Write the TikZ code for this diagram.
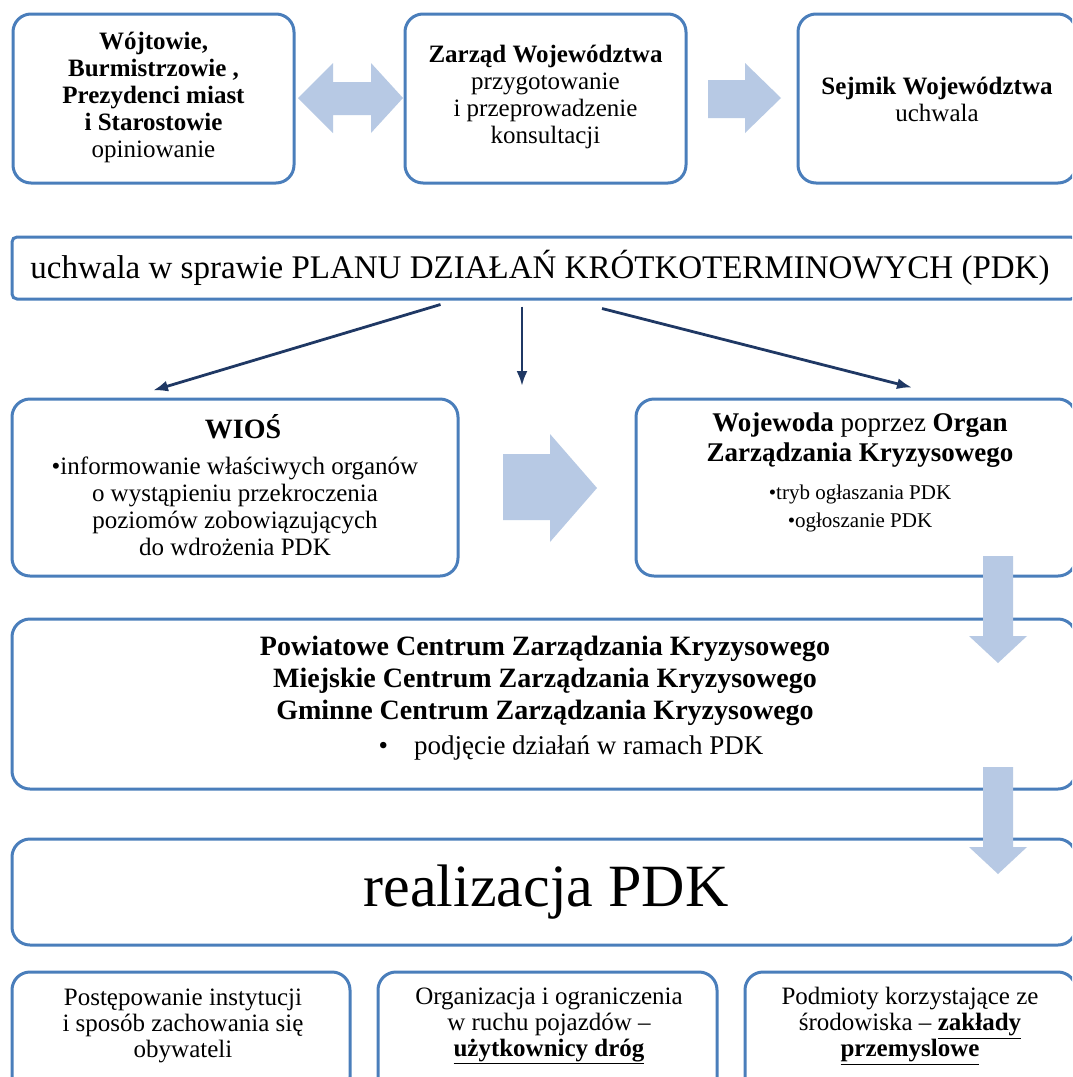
\documentclass[tikz,border=0pt]{standalone}
\usepackage{fontspec}
\setmainfont{Liberation Serif}
\usetikzlibrary{arrows.meta,calc}
\definecolor{boxblue}{RGB}{74,126,187}
\definecolor{lightarrow}{RGB}{183,201,228}
\definecolor{navy}{RGB}{31,56,100}
\tikzset{
  box/.style={draw=boxblue, line width=3pt, fill=white, rounded corners=18pt, inner sep=0pt},
  barbox/.style={draw=boxblue, line width=3pt, fill=white, rounded corners=5pt, inner sep=0pt},
  txt/.style={align=center, inner sep=0pt, text=black},
  navyarrow/.style={draw=navy, line width=2.8pt, -{Latex[length=15pt,width=11pt]}},
  blockarrow/.style={fill=lightarrow, draw=none}
}
\newcommand{\fs}[2]{\fontsize{#1}{#2}\selectfont}
\begin{document}
\begin{tikzpicture}[x=1pt,y=-1pt]
\useasboundingbox (0,0) rectangle (1072,1077);
\clip (0,0) rectangle (1072,1077);
\fill[white] (0,0) rectangle (1072,1077);

% top row
\node[box, minimum width=281pt, minimum height=169pt] (b1) at (153.5,98.5) {};
\node[box, minimum width=281pt, minimum height=169pt] (b2) at (545.5,98.5) {};
\node[box, minimum width=278pt, minimum height=169pt] (b3) at (937,98.5) {};
\node[txt, font=\fs{25}{27}] (t1) at (153.5,97) {\textbf{Wójtowie,}\\\textbf{Burmistrzowie ,}\\\textbf{Prezydenci miast}\\\textbf{i Starostowie}\\opiniowanie};
\node[txt, font=\fs{25}{27}] (t2) at (545.5,97) {\textbf{Zarząd Województwa}\\przygotowanie\\i przeprowadzenie\\konsultacji};
\node[txt, font=\fs{25}{27}] (t3) at (937,99) {\textbf{Sejmik Województwa}\\uchwala};

% block arrows top
\fill[blockarrow] (298,98) -- (333,63) -- (333,82) -- (371,82) -- (371,63) -- (403,98)
  -- (371,133) -- (371,115) -- (333,115) -- (333,133) -- cycle;
\fill[blockarrow] (708,80) -- (745,80) -- (745,63) -- (781,98) -- (745,133) -- (745,118) -- (708,118) -- cycle;

% PDK bar
\node[barbox, minimum width=1064pt, minimum height=62pt] (pdk) at (544,268) {};
\node[txt, font=\fs{33}{36}] (tpdk) at (540,268) {uchwala w sprawie PLANU DZIAŁAŃ KRÓTKOTERMINOWYCH (PDK)};

% middle boxes
\node[box, minimum width=446pt, minimum height=177pt] (wios) at (235,487.5) {};
\node[box, minimum width=440pt, minimum height=177pt] (woj) at (856,487.5) {};
\node[txt, font=\fs{28}{30}] (twiosh) at (243,427) {\textbf{WIOŚ}};
\node[txt, font=\fs{25}{27}] (twios) at (235,506) {•informowanie właściwych organów\\o wystąpieniu przekroczenia\\poziomów zobowiązujących\\do wdrożenia PDK};
\node[txt, font=\fs{27}{30}] (twojh) at (860,440) {\textbf{Wojewoda} poprzez \textbf{Organ}\\\textbf{Zarządzania Kryzysowego}};
\node[txt, font=\fs{21}{28}] (twojb) at (860,508) {•tryb ogłaszania PDK\\•ogłoszanie PDK};

% navy arrows
\coordinate (mid) at (522,386);
\draw[navyarrow] ([xshift=-103.5pt,yshift=-4pt]pdk.south) -- ([xshift=-82pt,yshift=7pt]wios.north);
\draw[navyarrow] ([xshift=-22pt,yshift=-6pt]pdk.south) -- (mid);
\draw[navyarrow] ([xshift=58pt,yshift=-8pt]pdk.south) -- ([xshift=56pt,yshift=10pt]woj.north);

% big block arrow
\fill[blockarrow] (503,454) -- (550,454) -- (550,434) -- (597,488) -- (550,542) -- (550,520) -- (503,520) -- cycle;

% PCZK
\node[box, minimum width=1064pt, minimum height=170pt] (pczk) at (544,704) {};
\node[txt, font=\fs{28}{32}] (tpczk) at (545,681) {\textbf{Powiatowe Centrum Zarządzania Kryzysowego}\\\textbf{Miejskie Centrum Zarządzania Kryzysowego}\\\textbf{Gminne Centrum Zarządzania Kryzysowego}};
\node[txt, font=\fs{27}{30}] (tpod) at (571,748) {•\hspace{26pt}podjęcie działań w ramach PDK};

% realizacja
\node[box, minimum width=1064pt, minimum height=106pt] (real) at (544,892) {};
\node[txt, font=\fs{60}{66}] (treal) at (546,892) {realizacja PDK};

% bottom boxes
\node[box, minimum width=338pt, minimum height=123pt] (ba) at (181,1033.5) {};
\node[box, minimum width=339pt, minimum height=123pt] (bb) at (547.5,1033.5) {};
\node[box, minimum width=331pt, minimum height=123pt] (bc) at (910.5,1033.5) {};
\node[txt, font=\fs{25}{26}] (ta) at (183,1026) {Postępowanie instytucji\\i sposób zachowania się\\obywateli};
\node[txt, font=\fs{25}{26}] (tb) at (549,1026) {Organizacja i ograniczenia\\w ruchu pojazdów –\\\textbf{\underline{użytkownicy dróg}}};
\node[txt, font=\fs{25}{26}] (tc) at (910,1026) {Podmioty korzystające ze\\środowiska – \textbf{\underline{zakłady}}\\\textbf{\underline{przemyslowe}}};

% down block arrows (in front of boxes)
\fill[blockarrow] (983,556) -- (1013,556) -- (1013,636) -- (1027,636) -- (998,663) -- (969,636) -- (983,636) -- cycle;
\fill[blockarrow] (983,767) -- (1013,767) -- (1013,847) -- (1027,847) -- (998,874) -- (969,847) -- (983,847) -- cycle;
\end{tikzpicture}
\end{document}
